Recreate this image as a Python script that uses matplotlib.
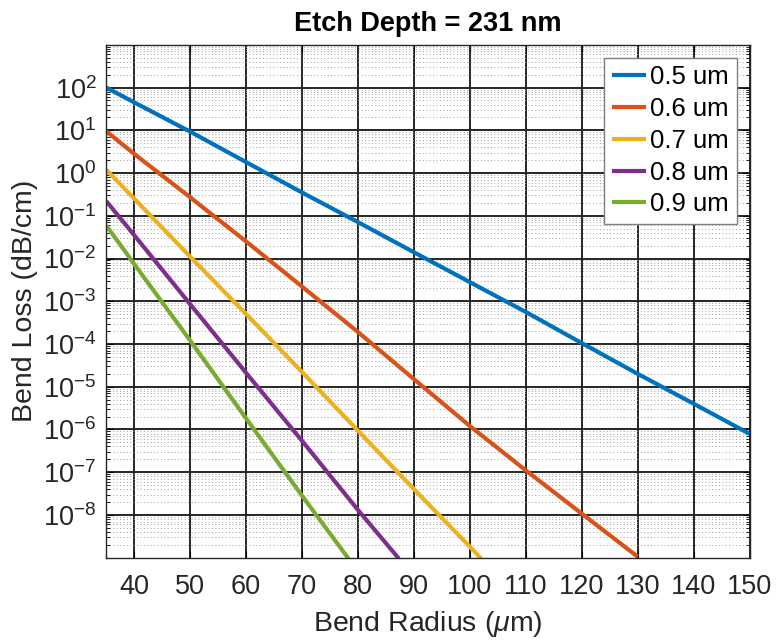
import numpy as np
import matplotlib
matplotlib.use("Agg")
import matplotlib.pyplot as plt
from matplotlib.ticker import LogLocator, NullFormatter

plt.rcParams["font.family"] = ["Liberation Sans", "DejaVu Sans"]
plt.rcParams["mathtext.fontset"] = "custom"
plt.rcParams["mathtext.rm"] = "Liberation Sans"
plt.rcParams["mathtext.it"] = "Liberation Sans:italic"

# -----------------------------------------------------------------------------
# data
# -----------------------------------------------------------------------------
x_05 = [35, 40, 50, 60, 70, 80, 90, 100, 110, 120, 130, 140, 150]
loss_05 = [100, 45, 9.3, 1.8, 0.35, 0.071, 0.014, 2.8e-3, 5.6e-4, 1.05e-4, 2.0e-5, 4.0e-6, 7.9e-7]

x_06 = [35, 40, 50, 60, 70, 80, 90, 100, 110, 120, 130]
loss_06 = [9.5, 2.8, 0.27, 0.025, 2.2e-3, 1.9e-4, 1.5e-5, 1.2e-6, 1.1e-7, 1.07e-8, 1.05e-9]

x_07 = [35, 40, 50, 60, 70, 80, 90, 100, 102]
loss_07 = [1.2, 0.25, 0.011, 5.0e-4, 2.2e-5, 9.3e-7, 4.0e-8, 1.8e-9, 9.5e-10]

x_08 = [35, 40, 50, 60, 70, 80, 87.3]
loss_08 = [0.22, 0.035, 8.5e-4, 2.1e-5, 5.4e-7, 1.3e-8, 9.5e-10]

x_09 = [35, 40, 50, 60, 70, 78.3]
loss_09 = [0.059, 7.4e-3, 1.2e-4, 1.8e-6, 2.8e-8, 9.5e-10]

labels = ["0.5 um", "0.6 um", "0.7 um", "0.8 um", "0.9 um"]
colors = ["#0072BD", "#D95319", "#EDB120", "#7E2F8E", "#77AC30"]

x_ticks = list(range(40, 151, 10))
y_ticks = [10.0 ** k for k in range(-8, 3)]

# -----------------------------------------------------------------------------
# plot
# -----------------------------------------------------------------------------
fig = plt.figure(figsize=(7.76, 6.41), dpi=100)
ax = fig.add_axes([0.137, 0.130, 0.829, 0.800])

series = [(x_05, loss_05), (x_06, loss_06), (x_07, loss_07), (x_08, loss_08), (x_09, loss_09)]
for (xs, ys), lab, c in zip(series, labels, colors):
    ax.plot(xs, ys, color=c, lw=3.0, label=lab, solid_capstyle="butt")

ax.set_yscale("log")
ax.set_xlim(35, 150)
ax.set_ylim(1e-9, 1e3)
ax.set_xticks(x_ticks)
ax.set_yticks(y_ticks)
ax.yaxis.set_minor_locator(LogLocator(base=10, subs=np.arange(2, 10), numticks=50))
ax.yaxis.set_minor_formatter(NullFormatter())

ax.grid(True, which="major", color="#262626", lw=1.4)
ax.grid(True, which="minor", axis="y", color="#a0a0a0", lw=0.7, ls=(0, (1, 2.5)))
ax.set_axisbelow(True)

ax.tick_params(which="both", direction="in", top=True, right=True, labelsize=19.5,
               labelcolor="#262626")
ax.tick_params(axis="x", pad=12)
ax.tick_params(axis="y", pad=7)
ax.tick_params(which="major", length=5)
ax.tick_params(which="minor", length=3)
for s in ax.spines.values():
    s.set_color("#262626")
    s.set_linewidth(1.0)

ax.set_xlabel("Bend Radius ($\\mu$m)", fontsize=20.5, color="#262626", labelpad=6)
ax.set_ylabel("Bend Loss (dB/cm)", fontsize=20.5, color="#262626", labelpad=4)
ax.set_title("Etch Depth = 231 nm", fontsize=19.5, fontweight="bold", pad=10)

leg = ax.legend(loc="upper right", fontsize=18.5, fancybox=False, framealpha=1,
                edgecolor="#7f7f7f", handlelength=1.35, handletextpad=0.15,
                labelspacing=0.3, borderpad=0.3, borderaxespad=0.5)
leg.get_frame().set_linewidth(1.0)

fig.savefig("out.png", dpi=100)
